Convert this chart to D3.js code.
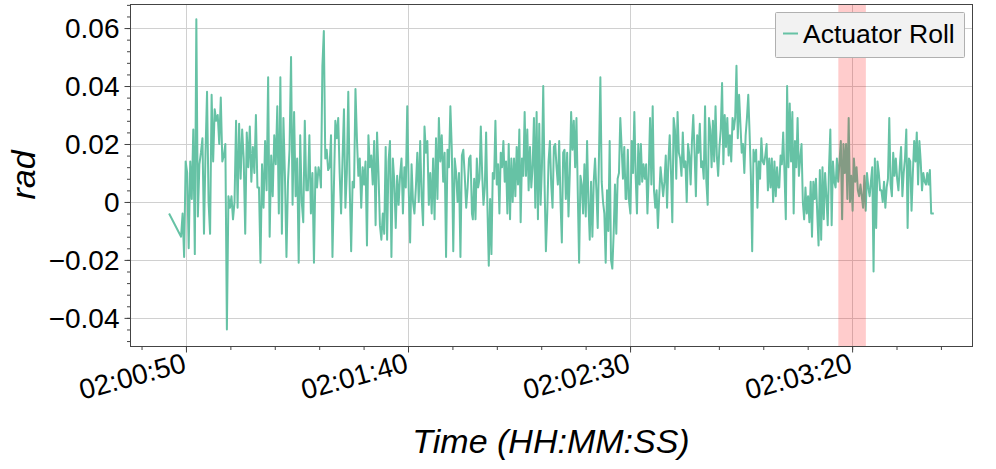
<!DOCTYPE html>
<html>
<head>
<meta charset="utf-8">
<script src="https://cdn.jsdelivr.net/npm/d3@7"></script>
<style>
  body { margin: 0; background: #fff; }
  svg { display: block; font-family: "Liberation Sans", Arial, Helvetica, sans-serif; }
</style>
</head>
<body>
<div id="chart"></div>
<script>
// actuator roll (rad), sample times in seconds after 02:00:00
const leadTimes = [46.2];
const leadValues = [-0.004];

// each segment: evenly spaced samples between its start and end second
const segmentSpans = [[48.9, 80.2], [80.4, 114.4], [114.6, 149.0], [149.2, 183.4], [183.6, 218.4]];

const rollSeg1 = [
  -0.012, -0.004, -0.019, 0.014, 0.010, -0.016, 0.014, 0.001, 0.025, -0.018,
  0.063, -0.005, 0.013, 0.017, 0.022, -0.011, 0.017, 0.038, 0.000, -0.011,
  0.037, 0.014, 0.032, 0.028, 0.030, 0.020, 0.036, 0.014, 0.016, 0.020,
  -0.044, 0.002, -0.002, 0.002, -0.006, 0.000, 0.028, -0.002, 0.027, 0.008,
  0.025, 0.015, -0.011, 0.024, 0.012, 0.026, 0.007, 0.019, 0.010, 0.030,
  0.005, 0.005, -0.021, 0.013, -0.002, 0.021, 0.004, 0.043, -0.012, 0.016,
  0.002, 0.023, 0.013, 0.033, -0.004, 0.043, -0.011, 0.029, 0.009, -0.019,
  0.007, 0.018, 0.050, -0.001, 0.031, 0.002, 0.015, -0.021, 0.023, 0.000,
  -0.007, 0.028, 0.004, 0.004, 0.023, -0.004, 0.010, -0.021, 0.012, 0.005,
  0.012, 0.009
];
const rollSeg2 = [
  0.005, 0.047, 0.059, 0.015, 0.018, 0.011, 0.012, 0.023, -0.019, 0.005,
  0.028, 0.022, 0.029, 0.010, -0.004, 0.015, 0.032, -0.002, 0.010, 0.038,
  0.005, -0.017, 0.007, 0.005, 0.039, 0.022, 0.009, 0.015, -0.002, 0.012,
  0.006, 0.014, -0.015, 0.023, 0.012, 0.016, 0.006, 0.021, -0.008, 0.024,
  0.010, -0.008, -0.013, -0.004, -0.011, 0.019, -0.013, 0.014, 0.021, -0.019,
  0.015, 0.007, -0.009, 0.009, -0.001, 0.009, 0.015, -0.004, 0.012, 0.005,
  0.033, 0.005, -0.014, 0.013, 0.000, -0.004, 0.005, 0.017, 0.000, 0.021,
  0.002, -0.008, 0.026, 0.017, 0.021, -0.001, 0.010, -0.004, 0.015, -0.006,
  0.022, 0.001, 0.029, 0.014, 0.023, 0.007, 0.017, -0.019, 0.018, 0.012,
  0.033, 0.018, -0.017, 0.015, 0.010, 0.000, 0.010, -0.019, 0.016, 0.018,
  0.009, -0.002, 0.005, 0.015, 0.016, -0.004
];
const rollSeg3 = [
  -0.006, 0.008, -0.006, 0.015, 0.005, 0.008, 0.026, 0.010, -0.001, 0.005,
  0.024, -0.002, -0.022, 0.001, -0.018, 0.010, 0.008, 0.028, 0.006, 0.013,
  -0.004, 0.017, 0.012, 0.021, 0.007, 0.014, -0.004, 0.020, -0.006, 0.015,
  0.000, 0.015, 0.002, 0.019, 0.006, 0.025, -0.007, 0.015, 0.009, 0.031,
  0.009, 0.025, 0.004, 0.019, 0.005, 0.012, 0.029, -0.002, 0.031, -0.006,
  0.027, -0.001, 0.012, 0.040, 0.006, -0.017, -0.004, 0.014, 0.021, 0.006,
  -0.002, 0.019, 0.020, 0.012, 0.006, 0.021, 0.000, -0.014, 0.017, 0.018,
  0.001, 0.017, -0.005, 0.010, 0.031, 0.018, 0.028, 0.012, 0.029, 0.003,
  -0.021, 0.009, 0.006, -0.004, 0.013, -0.005, 0.021, 0.000, -0.013, 0.007,
  -0.012, 0.007, 0.015, 0.004, -0.009, 0.017, 0.043, 0.007, 0.000, -0.004,
  -0.021, 0.004, -0.010, 0.021, -0.020, -0.023, -0.011, 0.006, -0.011, 0.008,
  0.010, 0.029, 0.019, 0.008, 0.019, 0.001
];
const rollSeg4 = [
  0.001, 0.018, 0.000, -0.004, 0.021, 0.010, 0.031, 0.009, -0.004, 0.020,
  0.006, 0.020, 0.007, 0.013, 0.008, 0.013, -0.004, 0.010, 0.029, 0.006,
  0.033, 0.004, -0.002, 0.004, -0.009, 0.002, 0.012, 0.007, 0.002, 0.007,
  0.016, -0.002, 0.014, 0.023, 0.010, -0.007, 0.029, 0.025, 0.008, 0.031,
  0.017, 0.015, 0.009, 0.024, 0.012, 0.014, 0.000, 0.020, 0.016, 0.006,
  0.021, 0.030, 0.017, 0.002, 0.023, 0.017, 0.027, 0.012, 0.014, 0.008,
  0.033, 0.007, -0.001, 0.029, 0.025, 0.012, 0.028, 0.014, 0.033, 0.016,
  0.009, 0.019, 0.025, 0.041, 0.013, 0.030, 0.019, 0.029, 0.016, 0.023,
  0.014, 0.029, 0.025, 0.029, 0.047, 0.022, 0.037, 0.027, 0.017, 0.020,
  0.010, 0.023, 0.029, 0.037, 0.024, 0.009, -0.017, 0.018, 0.014, 0.018,
  -0.002, 0.014, 0.008, 0.022, 0.014, 0.013, 0.016, 0.020, 0.004, 0.015,
  0.005, 0.015, 0.000, 0.014, 0.002, 0.012, 0.005
];
const rollSeg5 = [
  0.005, 0.016, 0.013, 0.024, 0.010, -0.006, 0.040, 0.012, 0.034, 0.014,
  0.031, -0.004, 0.021, 0.012, 0.029, 0.009, 0.015, 0.020, 0.000, -0.006,
  0.005, -0.004, 0.002, -0.007, 0.007, -0.012, 0.007, 0.001, 0.008, -0.004,
  -0.015, 0.011, -0.013, 0.012, -0.006, 0.010, 0.002, -0.008, 0.012, 0.025,
  -0.008, 0.014, 0.007, 0.005, 0.015, 0.007, 0.014, 0.021, -0.006, 0.020,
  0.010, 0.020, 0.001, 0.029, 0.000, 0.009, -0.003, 0.015, 0.007, 0.012,
  0.004, 0.002, 0.006, 0.002, -0.002, 0.009, -0.003, 0.010, 0.005, 0.002,
  0.007, 0.012, -0.024, 0.015, -0.009, 0.014, 0.010, 0.004, 0.004, 0.000,
  0.007, -0.002, 0.005, 0.008, 0.029, 0.006, 0.002, 0.017, 0.009, 0.015,
  0.008, 0.004, 0.012, 0.019, 0.002, 0.010, 0.015, 0.025, -0.009, 0.015,
  0.014, -0.003, 0.010, 0.021, 0.014, 0.024, 0.006, 0.021, 0.014, 0.004,
  0.010, 0.007, 0.006, 0.010, 0.006, 0.011, -0.004, -0.004, -0.004
];
const rollSegments = [rollSeg1, rollSeg2, rollSeg3, rollSeg4, rollSeg5];

const timeTickLabels = ["02:00:50", "02:01:40", "02:02:30", "02:03:20"];
const valueTicks = [-0.04, -0.02, 0, 0.02, 0.04, 0.06];
const eventWindow = ["02:03:16.9", "02:03:23.1"];
const xRange = ["02:00:37.4", "02:03:47.0"];
const yRange = [-0.0497, 0.0683];
const seriesName = "Actuator Roll";

var width = 996,
    height = 469,
    margin = {top: 4, right: 24, bottom: 123, left: 130};

var lineColor = "#66c2a5";

var base = new Date(2020, 0, 1, 2, 0, 0);
function clockToSec(str) {
  var p = str.split(":");
  return (+p[0] - 2) * 3600 + (+p[1]) * 60 + (+p[2]);
}
function toDate(sec) {
  return new Date(base.getTime() + sec * 1000);
}

// build the point list
var points = [];
leadTimes.forEach(function (t, i) {
  points.push({t: toDate(t), v: leadValues[i]});
});
rollSegments.forEach(function (seg, k) {
  var t0 = segmentSpans[k][0], t1 = segmentSpans[k][1];
  var pos = d3.scaleLinear().domain([0, seg.length - 1]).range([t0, t1]);
  seg.forEach(function (v, i) {
    points.push({t: toDate(pos(i)), v: v});
  });
});

var x = d3.scaleTime()
  .domain(xRange.map(function (s) { return toDate(clockToSec(s)); }))
  .range([margin.left, width - margin.right]);

var y = d3.scaleLinear()
  .domain(yRange)
  .range([height - margin.bottom, margin.top]);

var svg = d3.select("#chart")
  .append("svg")
  .attr("width", width)
  .attr("height", height);

svg.append("rect")
  .attr("width", width)
  .attr("height", height)
  .attr("fill", "#ffffff");

var majorTimes = timeTickLabels.map(function (s) { return toDate(clockToSec(s)); });
var minorTimes = d3.range(40, 230, 10).map(toDate);
var minorValues = d3.range(-12, 18).map(function (i) { return i * 0.004; });

// grid
var grid = svg.append("g").attr("stroke", "#d0d0d0").attr("stroke-width", 1);
grid.selectAll("line.gx")
  .data(majorTimes)
  .enter().append("line")
    .attr("x1", function (d) { return Math.round(x(d)) + 0.5; })
    .attr("x2", function (d) { return Math.round(x(d)) + 0.5; })
    .attr("y1", margin.top)
    .attr("y2", height - margin.bottom);
grid.selectAll("line.gy")
  .data(valueTicks)
  .enter().append("line")
    .attr("x1", margin.left)
    .attr("x2", width - margin.right)
    .attr("y1", function (d) { return Math.round(y(d)) + 0.5; })
    .attr("y2", function (d) { return Math.round(y(d)) + 0.5; });

// series
var line = d3.line()
  .x(function (d) { return x(d.t); })
  .y(function (d) { return y(d.v); });

svg.append("path")
  .datum(points)
  .attr("fill", "none")
  .attr("stroke", lineColor)
  .attr("stroke-width", 2)
  .attr("stroke-linejoin", "round")
  .attr("d", line);

// highlighted window
var w0 = x(toDate(clockToSec(eventWindow[0]))),
    w1 = x(toDate(clockToSec(eventWindow[1])));
svg.append("rect")
  .attr("x", w0)
  .attr("y", margin.top)
  .attr("width", w1 - w0)
  .attr("height", height - margin.bottom - margin.top)
  .attr("fill", "#ff0000")
  .attr("opacity", 0.2);

// frame
svg.append("rect")
  .attr("x", margin.left + 0.5)
  .attr("y", margin.top + 0.5)
  .attr("width", width - margin.left - margin.right)
  .attr("height", height - margin.top - margin.bottom)
  .attr("fill", "none")
  .attr("stroke", "#444")
  .attr("stroke-width", 1);

// x axis
var xAxisMinor = svg.append("g")
  .attr("transform", "translate(0," + (height - margin.bottom + 0.5) + ")")
  .call(d3.axisBottom(x).tickValues(minorTimes).tickSize(3.5).tickFormat(""));
var xAxis = svg.append("g")
  .attr("transform", "translate(0," + (height - margin.bottom + 0.5) + ")")
  .call(d3.axisBottom(x).tickValues(majorTimes).tickSize(6)
    .tickFormat(function (d, i) { return timeTickLabels[i]; }));

xAxis.selectAll("text")
  .attr("y", null)
  .attr("dy", null)
  .attr("text-anchor", "end")
  .attr("transform", "translate(1,25) rotate(-15)")
  .style("font-size", "28px")
  .attr("fill", "#000");

// y axis
var yAxisMinor = svg.append("g")
  .attr("transform", "translate(" + (margin.left + 0.5) + ",0)")
  .call(d3.axisLeft(y).tickValues(minorValues).tickSize(3.5).tickFormat(""));
var yAxis = svg.append("g")
  .attr("transform", "translate(" + (margin.left + 0.5) + ",0)")
  .call(d3.axisLeft(y).tickValues(valueTicks).tickSize(6).tickPadding(5)
    .tickFormat(function (d) { return d === 0 ? "0" : d3.format(".2f")(d); }));

yAxis.selectAll("text")
  .attr("dy", "0.35em")
  .style("font-size", "28px")
  .attr("fill", "#000");

[xAxisMinor, xAxis, yAxisMinor, yAxis].forEach(function (g) {
  g.select(".domain").remove();
  g.selectAll(".tick line").attr("stroke", "#444");
});

// axis titles
svg.append("text")
  .text("Time (HH:MM:SS)")
  .attr("x", (margin.left + width - margin.right) / 2)
  .attr("y", 453)
  .attr("text-anchor", "middle")
  .attr("font-style", "italic")
  .style("font-size", "34px")
  .style("fill", "#000");

svg.append("text")
  .text("rad")
  .attr("transform", "translate(35," + ((margin.top + height - margin.bottom) / 2) + ") rotate(-90)")
  .attr("text-anchor", "middle")
  .attr("font-style", "italic")
  .style("font-size", "34px")
  .style("fill", "#000");

// legend
var legend = svg.append("g").attr("transform", "translate(775,12)");
legend.append("rect")
  .attr("x", 0.5)
  .attr("y", 0.5)
  .attr("width", 189)
  .attr("height", 45)
  .attr("rx", 1)
  .attr("fill", "#f2f2f2")
  .attr("stroke", "#b0b0b0");
legend.append("line")
  .attr("x1", 8)
  .attr("x2", 23)
  .attr("y1", 21.5)
  .attr("y2", 21.5)
  .attr("stroke", lineColor)
  .attr("stroke-width", 2);
legend.append("text")
  .text(seriesName)
  .attr("x", 28)
  .attr("y", 31)
  .style("font-size", "26.5px")
  .style("fill", "#000");
</script>
</body>
</html>
